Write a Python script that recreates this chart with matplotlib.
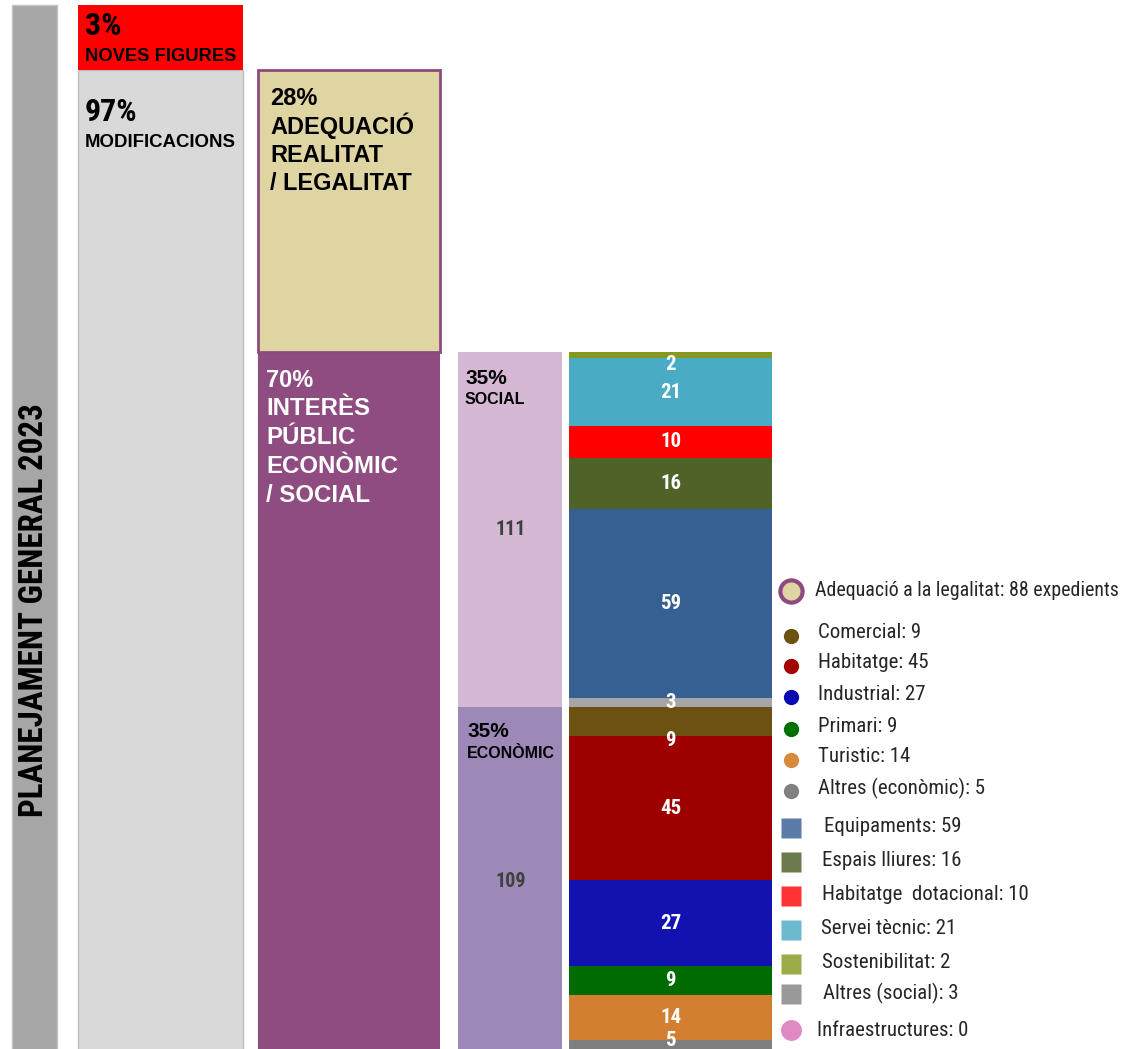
import matplotlib
matplotlib.use("Agg")
import matplotlib.pyplot as plt
import numpy as np

# ---- data -------------------------------------------------------------
title = "PLANEJAMENT GENERAL 2023"

pct_noves, pct_modif = 3, 97
pct_adequacio, pct_interes = 28, 70
pct_social, pct_economic = 35, 35

adequacio_count = 88
infraestructures_count = 0

# social categories, listed top to bottom as stacked
social_cats = ["Sostenibilitat", "Servei tècnic", "Habitatge  dotacional",
               "Espais lliures", "Equipaments", "Altres (social)"]
social_vals = [2, 21, 10, 16, 59, 3]

# economic categories, listed top to bottom as stacked
econ_cats = ["Comercial", "Habitatge", "Industrial", "Primari", "Turistic",
             "Altres (econòmic)"]
econ_vals = [9, 45, 27, 9, 14, 5]

# ---- styles -----------------------------------------------------------
social_colors = ["#86991f", "#4aabc5", "#ff0000", "#4f6228", "#366092", "#a6a6a6"]
econ_colors = ["#6d5112", "#9e0000", "#1212b0", "#006b00", "#d27f32", "#7f7f7f"]
social_legend_colors = ["#9bab48", "#6cbace", "#ff3333", "#6b7b4d", "#5d7ba8", "#999999"]
econ_legend_colors = ["#6d5112", "#a30000", "#0a0ab3", "#007000", "#d8893a", "#808080"]

W, H = 1134, 1049
DPI = 100
NARROW = ["Roboto Condensed", "Liberation Sans", "DejaVu Sans"]
ARIAL = ["Liberation Sans", "DejaVu Sans"]

fig = plt.figure(figsize=(W / DPI, H / DPI), dpi=DPI)
fig.patch.set_facecolor("white")

# data axes: x in pixel columns, y in number of expedients
ax = fig.add_axes([0, 0, 1, 1])
ax.set_xlim(0, W)
ax.set_ylim(7 / 3.2, 1056 / 3.2)
ax.axis("off")

# overlay axes in pixel coordinates for captions and legend
pax = fig.add_axes([0, 0, 1, 1])
pax.set_xlim(0, W)
pax.set_ylim(H, 0)
pax.axis("off")
pax.patch.set_alpha(0)

n_social = sum(social_vals)
n_econ = sum(econ_vals)
n_interes = n_social + n_econ
n_modif = n_interes + adequacio_count
noves_band = 20.4
top = n_modif + noves_band

# title column
ax.bar(12, top + 5, bottom=-5, width=45, align="edge",
       color="#a6a6a6", edgecolor="#c4c4c4", linewidth=1)
pax.text(34.5, 610, title, rotation=90, ha="center", va="center",
         fontsize=23.8, fontweight="bold", family=NARROW, color="black")

# modificacions / noves figures
ax.bar(78, n_modif + 5, bottom=-5, width=165, align="edge",
       color="#d9d9d9", edgecolor="#bfbfbf", linewidth=1)
ax.bar(78, noves_band, bottom=n_modif, width=165, align="edge",
       color="#ff0000", linewidth=0)

# interès públic / adequació
ax.bar(258, n_interes + 5, bottom=-5, width=182, align="edge",
       color="#8f4c80", linewidth=0)
ax.bar(258, adequacio_count, bottom=n_interes, width=182, align="edge",
       color="#dfd5a3", edgecolor="#8e4a7e", linewidth=2)

# social / econòmic
ax.bar(458, n_econ + 5, bottom=-5, width=104, align="edge",
       color="#9d89b8", linewidth=0)
ax.bar(458, n_social, bottom=n_econ, width=104, align="edge",
       color="#d5b8d3", linewidth=0)
ax.text(510.5, n_econ + n_social / 2, f"{n_social}", ha="center", va="center",
        fontsize=14.5, fontweight="bold", family=NARROW, color="#404040")
ax.text(510.5, n_econ / 2, f"{n_econ}", ha="center", va="center",
        fontsize=14.5, fontweight="bold", family=NARROW, color="#404040")

# detailed stack, drawn bottom-up
stack_vals = list(reversed(econ_vals)) + list(reversed(social_vals))
stack_cols = list(reversed(econ_colors)) + list(reversed(social_colors))
stack_names = list(reversed(econ_cats)) + list(reversed(social_cats))
bottoms = np.concatenate([[0], np.cumsum(stack_vals)[:-1]])
# small nudges (pixels) for labels of the thinnest segments
label_nudge = {"Sostenibilitat": -9, "Comercial": -19, "Altres (econòmic)": 7}
for name, v, b, c in zip(stack_names, stack_vals, bottoms, stack_cols):
    ax.bar(569, v, bottom=b, width=203, align="edge", color=c, linewidth=0)
    ax.annotate(f"{v}", (670.5, b + v / 2), xytext=(0, label_nudge.get(name, 0)),
                textcoords="offset pixels", ha="center", va="center",
                fontsize=15, fontweight="bold", family=NARROW, color="white")


def caption(x, y, s, size, color="black", family=ARIAL):
    pax.text(x, y, s, ha="left", va="baseline", fontsize=size,
             fontweight="bold", family=family, color=color)


caption(85, 35, f"{pct_noves}%", 23, family=NARROW)
caption(85, 61, "NOVES FIGURES", 13.2)
caption(85, 121, f"{pct_modif}%", 23, family=NARROW)
caption(85, 147, "MODIFICACIONS", 13.4)

caption(270, 105, f"{pct_adequacio}%", 17)
for i, line in enumerate(["ADEQUACIÓ", "REALITAT", "/ LEGALITAT"]):
    caption(270, 134 + 28 * i, line, 16.9)

caption(266, 387, f"{pct_interes}%", 17, color="white")
for i, line in enumerate(["INTERÈS", "PÚBLIC", "ECONÒMIC", "/ SOCIAL"]):
    caption(266, 415 + 29 * i, line, 17.3, color="white")

caption(465, 384, f"{pct_social}%", 15)
caption(465, 404, "SOCIAL", 11.5)
caption(467, 737, f"{pct_economic}%", 15)
caption(467, 758, "ECONÒMIC", 11.5)


# legend
def legend_text(x, y, s, size=15):
    pax.text(x, y, s, ha="left", va="center", fontsize=size, family=NARROW,
             color="#262626")


pax.plot(791, 591, "o", ms=16, mfc="#dfd5a3", mec="#8e4a7e", mew=3)
legend_text(815, 591, f"Adequació a la legalitat: {adequacio_count} expedients", 14.3)

econ_y = [636, 666, 697, 729, 760, 791]
for name, v, c, y in zip(econ_cats, econ_vals, econ_legend_colors, econ_y):
    pax.plot(791, y, "o", ms=11, mfc=c, mec="none")
    legend_text(818, y - 3, f"{name}: {v}")

# legend order for social categories
soc_order = ["Equipaments", "Espais lliures", "Habitatge  dotacional",
             "Servei tècnic", "Sostenibilitat", "Altres (social)"]
soc_y = [828, 862, 896, 930, 964, 994]
soc_x = [824, 822, 822, 821, 822, 823]
for name, y, tx in zip(soc_order, soc_y, soc_x):
    i = social_cats.index(name)
    pax.plot(791, y, "s", ms=14.5, mfc=social_legend_colors[i], mec="none")
    legend_text(tx, y - 1, f"{name}: {social_vals[i]}")

pax.plot(791, 1030, "o", ms=15, mfc="#e08ac4", mec="none")
legend_text(817, 1030, f"Infraestructures: {infraestructures_count}")

fig.savefig("out.png", dpi=DPI, facecolor="white")
